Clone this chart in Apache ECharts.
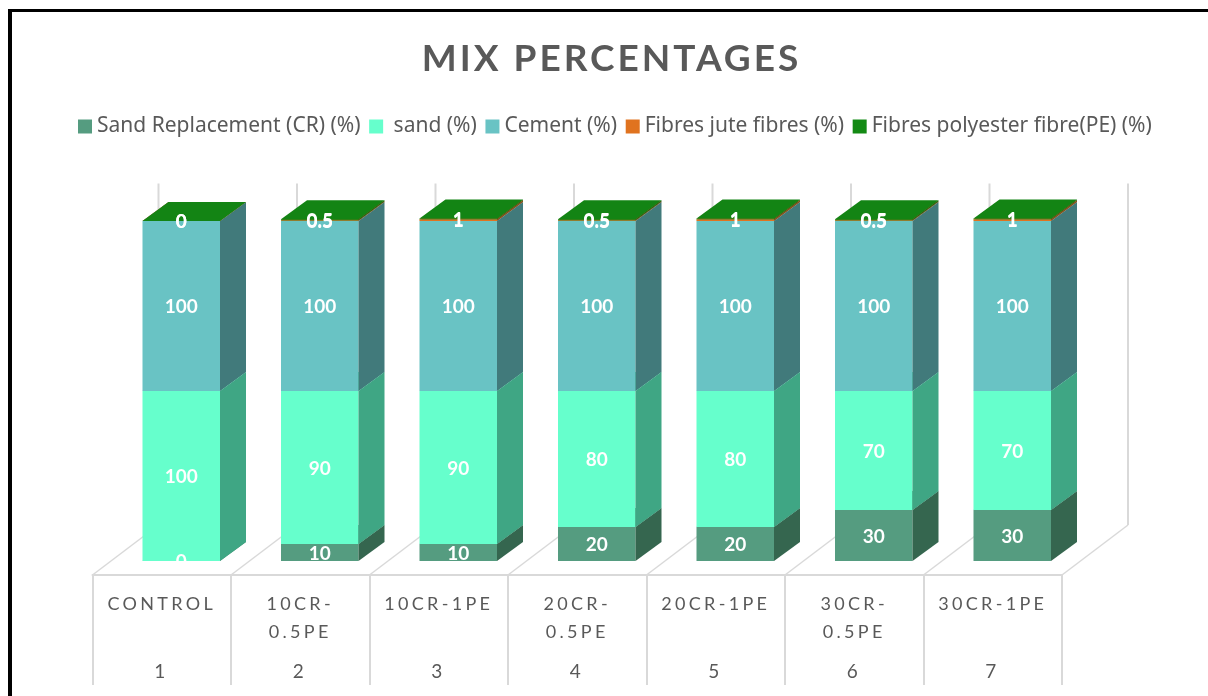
<!DOCTYPE html>
<html><head><meta charset="utf-8">
<script src="https://cdn.jsdelivr.net/npm/echarts@6/dist/echarts.min.js"></script>
<style>html,body{margin:0;padding:0;background:#fff}#c{width:1208px;height:696px}</style>
</head><body><div id="c"></div>
<script>
const categories = ['CONTROL','10CR-\n0.5PE','10CR-1PE','20CR-\n0.5PE','20CR-1PE','30CR-\n0.5PE','30CR-1PE'];
const mixNumbers = ['1','2','3','4','5','6','7'];
const crValues = [0,10,10,20,20,30,30];
const sandValues = [100,90,90,80,80,70,70];
const cementValues = [100,100,100,100,100,100,100];
const juteValues = [0,0.5,1,0.5,1,0.5,1];
const peValues = [0,0.5,1,0.5,1,0.5,1];
const seriesNames = ['Sand Replacement (CR) (%)',' sand (%)','Cement (%)','Fibres jute fibres (%)','Fibres polyester fibre(PE) (%)'];
const seriesValues = [crValues,sandValues,cementValues,juteValues,peValues];
const faceColors = ['#559C80','#66FFCC','#69C3C4','#E0731F','#138A14'];
const sideColors = ['#35664F','#3FA684','#417A7B','#8F4C16','#0E6410'];
const topColors  = ['#4A8A70','#55DDB0','#5CAEAE','#B85E18','#138414'];
const AXIS_MAX = 201.5;
const TITLE_SIZE = 37, CAT_SIZE = 18;

// letter spacing for the title and category labels (canvas-level)
const nativeFill = CanvasRenderingContext2D.prototype.fillText;
CanvasRenderingContext2D.prototype.fillText = function(t,x,y,m){
  const f = this.font || '';
  this.letterSpacing = f.indexOf(TITLE_SIZE+'px')>=0 ? '3px' : f.indexOf(CAT_SIZE+'px')>=0 ? '3.3px' : '0px';
  return m===undefined ? nativeFill.call(this,t,x,y) : nativeFill.call(this,t,x,y,m);
};

const BAR_W=77.5, BAR_SHIFT=19.5, DEPTH_X=26, DEPTH_Y=19, FLOOR_DROP=14, WALL_X=66, WALL_Y=50;

function stackRows(k){
  return categories.map((_,i)=>{
    let base=0; for(let s=0;s<k;s++) base+=seriesValues[s][i];
    const v=seriesValues[k][i];
    return [i, Math.min(base,AXIS_MAX), Math.min(base+v,AXIS_MAX), v];
  });
}
function barRender(k){
  return function(params,api){
    const i=api.value(0), y0=api.coord([i,api.value(1)])[1], p=api.coord([i,api.value(2)]);
    const x=p[0]-BAR_W/2+BAR_SHIFT, y1=p[1], x2=x+BAR_W, h=Math.max(y0-y1,0);
    const kids=[
      {type:'rect',z2:k+1,shape:{x:x,y:y1,width:BAR_W,height:h},style:{fill:faceColors[k]},silent:true},
      {type:'polygon',z2:k+1,shape:{points:[[x2,y0],[x2+DEPTH_X,y0-DEPTH_Y],[x2+DEPTH_X,y1-DEPTH_Y],[x2,y1]]},style:{fill:sideColors[k]},silent:true},
      {type:'polygon',z2:k+1,shape:{points:[[x,y1],[x+DEPTH_X,y1-DEPTH_Y],[x2+DEPTH_X,y1-DEPTH_Y],[x2,y1]]},style:{fill:topColors[k]},silent:true},
      {type:'text',z2:60,silent:true,style:{text:String(api.value(3)),x:x+BAR_W/2,y:(y0+y1)/2+1,align:'center',verticalAlign:'middle',fill:'#fff',font:'bold 19px Lato, sans-serif'}}
    ];
    return {type:'group',children:kids};
  };
}
function frameRender(params,api){
  const i=api.value(0), c=api.coord([i,0]), top=api.coord([i,AXIS_MAX])[1], w=api.size([1,0])[0];
  const st={stroke:'#D9D9D9',lineWidth:2};
  const wall=(x)=>[
    {type:'polyline',z2:0,silent:true,shape:{points:[[x,c[1]+FLOOR_DROP],[x+WALL_X,c[1]+FLOOR_DROP-WALL_Y]]},style:{stroke:'#D9D9D9',lineWidth:1.5,fill:null}},
    {type:'line',z2:0,silent:true,shape:{x1:x+WALL_X,y1:c[1]+FLOOR_DROP-WALL_Y,x2:x+WALL_X,y2:top-DEPTH_Y-16},style:st}
  ];
  let kids=wall(c[0]-w/2);
  if(i===categories.length-1) kids=kids.concat(wall(c[0]+w/2));
  return {type:'group',children:kids};
}
const series=[{type:'custom',name:'_frame',silent:true,z:1,renderItem:frameRender,data:categories.map((_,i)=>[i]),encode:{x:0}}];
seriesNames.forEach((n,k)=>{
  series.push({type:'custom',name:n,z:2,silent:true,renderItem:barRender(k),itemStyle:{color:faceColors[k]},data:stackRows(k),encode:{x:0,y:[1,2]}});
});
const axisLine={show:true,onZero:false,lineStyle:{color:'#D9D9D9',width:2}};
const chart=echarts.init(document.getElementById('c'));
chart.setOption({
  animation:false,backgroundColor:'#fff',
  title:{text:'MIX PERCENTAGES',left:606.5,top:36,textAlign:'center',textStyle:{fontFamily:'Lato, sans-serif',fontSize:TITLE_SIZE,fontWeight:'bold',color:'#595959'}},
  legend:{data:seriesNames,left:78,top:116,padding:0,itemWidth:14,itemHeight:14,itemGap:8.6,icon:'rect',selectedMode:false,textStyle:{fontFamily:'"Noto Sans", sans-serif',fontSize:21,color:'#595959'}},
  grid:{left:92.5,right:146,top:218.45,bottom:135,containLabel:false},
  xAxis:[
    {type:'category',data:categories,position:'bottom',offset:14,boundaryGap:true,axisLine:axisLine,
     axisTick:{show:true,alignWithLabel:false,length:110,lineStyle:{color:'#D9D9D9',width:2}},
     axisLabel:{interval:0,margin:15,verticalAlign:'top',lineHeight:28,fontFamily:'Lato, sans-serif',fontSize:CAT_SIZE,color:'#595959'},splitLine:{show:false}},
    {type:'category',data:mixNumbers,position:'bottom',offset:14,boundaryGap:true,axisLine:{show:false},axisTick:{show:false},
     axisLabel:{interval:0,margin:87,verticalAlign:'top',padding:[0,4,0,0],fontFamily:'Lato, sans-serif',fontSize:19,color:'#595959'},splitLine:{show:false}}
  ],
  yAxis:{type:'value',min:0,max:AXIS_MAX,show:false,splitLine:{show:false}},
  tooltip:{show:false},
  graphic:[
    {type:'rect',silent:true,shape:{x:8,y:9,width:4,height:687},style:{fill:'#000'}},
    {type:'rect',silent:true,shape:{x:8,y:9,width:1200,height:3},style:{fill:'#000'}}
  ],
  series:series
});
</script></body></html>
